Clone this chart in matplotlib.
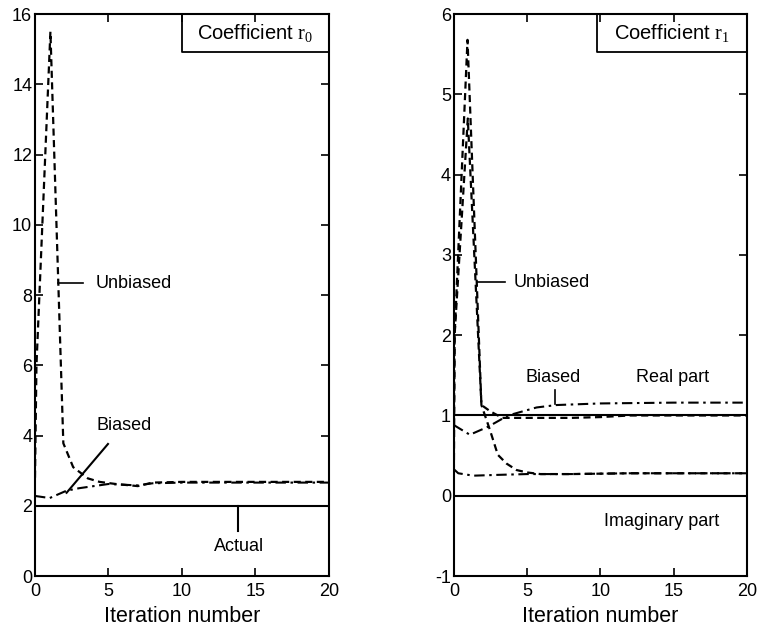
import matplotlib
matplotlib.use("Agg")
import matplotlib.pyplot as plt

plt.rcParams['font.family'] = ['Liberation Sans', 'DejaVu Sans']
plt.rcParams['mathtext.fontset'] = 'custom'
plt.rcParams['mathtext.rm'] = 'Liberation Serif'
plt.rcParams['axes.unicode_minus'] = False

# coefficient r0 estimates vs iteration
r0_unb_x = [0, 0.1, 1.05, 1.93, 2.6, 3.6, 4.4, 5.5, 7.0, 8.0, 10, 12, 14, 16, 18, 20]
r0_unb_y = [2.8, 6.0, 15.5, 3.78, 3.1, 2.78, 2.68, 2.62, 2.56, 2.66, 2.68, 2.68, 2.68, 2.68, 2.68, 2.68]
r0_bia_x = [0, 1.0, 2.15, 3.0, 4.0, 5.0, 7.0, 8.0, 10, 15, 20]
r0_bia_y = [2.28, 2.22, 2.43, 2.5, 2.56, 2.62, 2.58, 2.64, 2.66, 2.66, 2.66]
r0_actual = 2.0

# coefficient r1 estimates, real and imaginary parts
r1re_unb_x = [0, 0.05, 0.93, 1.88, 2.5, 3.3, 5, 8, 10, 12, 15, 20]
r1re_unb_y = [0.9, 2.0, 5.68, 1.13, 1.05, 0.97, 0.97, 0.97, 0.98, 1.0, 1.0, 1.0]
r1im_unb_x = [0, 0.05, 0.95, 1.88, 2.46, 3.0, 3.6, 4.28, 5.0, 5.9, 8, 12, 20]
r1im_unb_y = [0.3, 2.0, 4.7, 1.13, 0.82, 0.51, 0.4, 0.32, 0.29, 0.27, 0.27, 0.28, 0.28]
r1re_bia_x = [0, 1.09, 2.34, 3.7, 5.65, 7.0, 10, 15, 20]
r1re_bia_y = [0.88, 0.76, 0.86, 1.0, 1.1, 1.13, 1.15, 1.16, 1.16]
r1im_bia_x = [0, 0.3, 1.32, 3.0, 5.0, 8, 12, 20]
r1im_bia_y = [0.33, 0.28, 0.25, 0.26, 0.27, 0.27, 0.28, 0.28]
r1_actual_re = 1.0
r1_actual_im = 0.0

dashed = (0, (3.2, 2))
dashdot = (0, (5, 2.2, 1.2, 2.2))

fig = plt.figure(figsize=(7.59, 6.32), dpi=100)
ax1 = fig.add_axes([0.0461, 0.0886, 0.387, 0.889])
ax2 = fig.add_axes([0.598, 0.0886, 0.386, 0.889])

for ax in (ax1, ax2):
    ax.set_xlim(0, 20)
    ax.set_xticks([0, 5, 10, 15, 20])
    ax.tick_params(direction='in', length=6, width=1.2, top=True, right=True,
                   labelsize=13, pad=2)
    ax.tick_params(axis='x', pad=5)
    for s in ax.spines.values():
        s.set_linewidth(1.5)
    ax.set_xlabel('Iteration number', fontsize=15.5, labelpad=4)

# left panel
ax1.set_ylim(0, 16)
ax1.set_yticks(range(0, 17, 2))
ax1.plot([0, 20], [r0_actual, r0_actual], color='black', lw=1.5)
ax1.plot(r0_unb_x, r0_unb_y, color='black', lw=1.6, linestyle=dashed)
ax1.plot(r0_bia_x, r0_bia_y, color='black', lw=1.5, linestyle=dashdot)
ax1.plot([1.57, 3.3], [8.34, 8.34], color='black', lw=1.2)
ax1.text(4.1, 8.34, 'Unbiased', fontsize=13, va='center', ha='left')
ax1.plot([2.15, 4.97], [2.37, 3.76], color='black', lw=1.5)
ax1.text(4.2, 4.3, 'Biased', fontsize=13, va='center', ha='left')
ax1.plot([13.8, 13.8], [2.0, 1.27], color='black', lw=1.5)
ax1.text(13.9, 0.85, 'Actual', fontsize=13, va='center', ha='center')
ax1.plot([10, 10, 20], [16, 14.93, 14.93], color='black', lw=1.3)
ax1.text(15, 15.45, r'Coefficient $\mathrm{r}_0$', fontsize=14.5, va='center', ha='center')

# right panel
ax2.set_ylim(-1, 6)
ax2.set_yticks(range(-1, 7))
ax2.plot([0, 20], [r1_actual_re, r1_actual_re], color='black', lw=1.5)
ax2.plot([0, 20], [r1_actual_im, r1_actual_im], color='black', lw=1.5)
ax2.plot(r1re_unb_x, r1re_unb_y, color='black', lw=1.6, linestyle=dashed)
ax2.plot(r1im_unb_x, r1im_unb_y, color='black', lw=1.6, linestyle=dashed)
ax2.plot(r1re_bia_x, r1re_bia_y, color='black', lw=1.5, linestyle=dashdot)
ax2.plot(r1im_bia_x, r1im_bia_y, color='black', lw=1.5, linestyle=dashdot)
ax2.plot([1.6, 3.5], [2.66, 2.66], color='black', lw=1.2)
ax2.text(4.1, 2.66, 'Unbiased', fontsize=13, va='center', ha='left')
ax2.text(6.76, 1.47, 'Biased', fontsize=13, va='center', ha='center')
ax2.plot([6.9, 6.9], [1.32, 1.14], color='black', lw=1.2)
ax2.text(14.9, 1.47, 'Real part', fontsize=13, va='center', ha='center')
ax2.text(14.2, -0.32, 'Imaginary part', fontsize=13, va='center', ha='center')
ax2.plot([9.8, 9.8, 20], [6, 5.53, 5.53], color='black', lw=1.3)
ax2.text(14.9, 5.76, r'Coefficient $\mathrm{r}_1$', fontsize=14.5, va='center', ha='center')

fig.savefig('out.png', dpi=100)
